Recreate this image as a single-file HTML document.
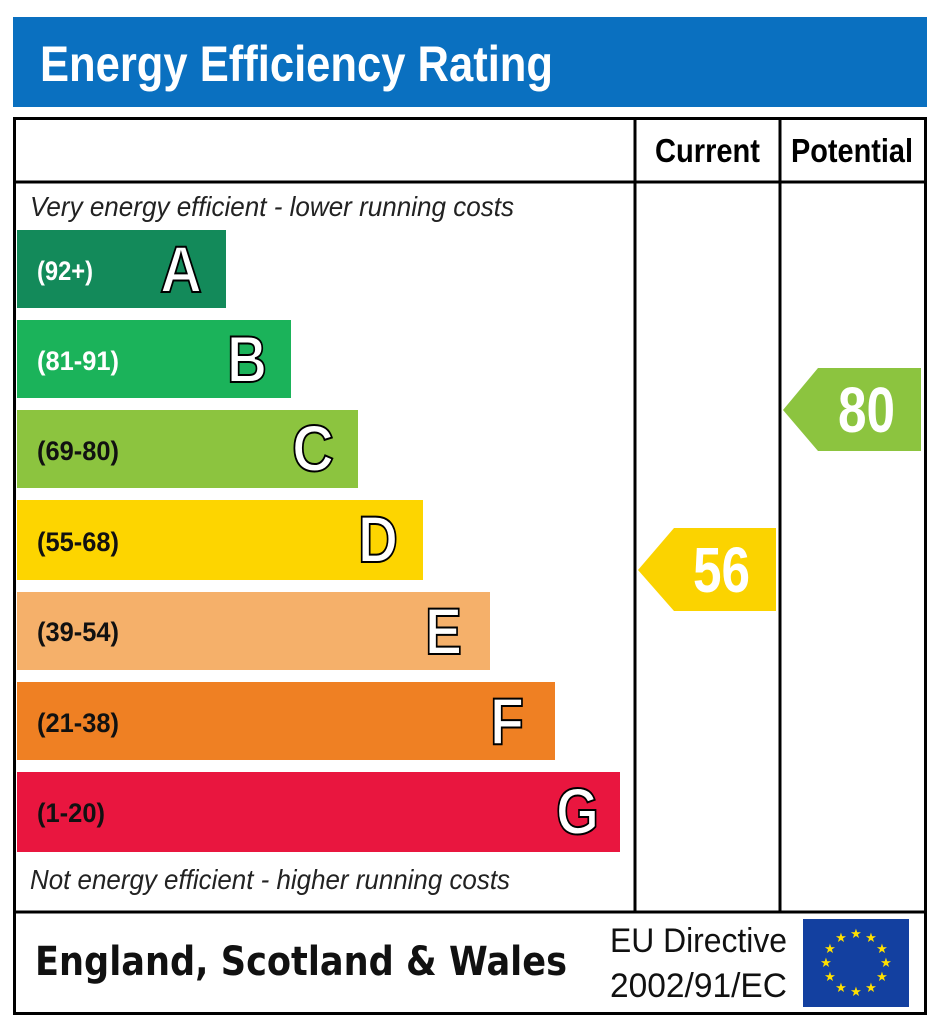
<!DOCTYPE html>
<html><head><meta charset="utf-8"><style>html,body{margin:0;padding:0;background:#fff}svg{display:block}</style></head>
<body>
<svg width="945" height="1024" viewBox="0 0 945 1024" xmlns="http://www.w3.org/2000/svg" font-family="'Liberation Sans Narrow','Liberation Sans',sans-serif">
<rect x="13" y="17" width="914" height="90" fill="#0a70c0"/>
<text x="40" y="81" font-size="50" font-weight="bold" fill="#fff" textLength="513" lengthAdjust="spacingAndGlyphs">Energy Efficiency Rating</text>
<rect x="14.5" y="118.5" width="911" height="895" fill="none" stroke="#000" stroke-width="3"/>
<line x1="14" y1="182" x2="926" y2="182" stroke="#000" stroke-width="3"/>
<line x1="14" y1="912" x2="926" y2="912" stroke="#000" stroke-width="3"/>
<line x1="635" y1="118" x2="635" y2="912" stroke="#000" stroke-width="3"/>
<line x1="780" y1="118" x2="780" y2="912" stroke="#000" stroke-width="3"/>
<text x="655" y="162" font-size="33" font-weight="bold" textLength="105" lengthAdjust="spacingAndGlyphs">Current</text>
<text x="791" y="162" font-size="33" font-weight="bold" textLength="122" lengthAdjust="spacingAndGlyphs">Potential</text>
<text x="30" y="216" font-size="28" font-style="italic" fill="#222" textLength="484" lengthAdjust="spacingAndGlyphs">Very energy efficient - lower running costs</text>
<text x="30" y="889" font-size="28" font-style="italic" fill="#222" textLength="480" lengthAdjust="spacingAndGlyphs">Not energy efficient - higher running costs</text>
<g font-weight="bold">
<rect x="17" y="230" width="209" height="78" fill="#138a5a"/>
<text x="37" y="280" font-size="27" fill="#fff" textLength="56" lengthAdjust="spacingAndGlyphs">(92+)</text>
<text x="160" y="292" font-size="66" fill="#fff" stroke="#000" stroke-width="2" textLength="42" lengthAdjust="spacingAndGlyphs">A</text>
<rect x="17" y="320" width="274" height="78" fill="#1bb35a"/>
<text x="37" y="370" font-size="27" fill="#fff" textLength="82" lengthAdjust="spacingAndGlyphs">(81-91)</text>
<text x="227" y="382" font-size="66" fill="#fff" stroke="#000" stroke-width="2" textLength="40" lengthAdjust="spacingAndGlyphs">B</text>
<rect x="17" y="410" width="341" height="78" fill="#8cc43f"/>
<text x="37" y="460" font-size="27" fill="#111" textLength="82" lengthAdjust="spacingAndGlyphs">(69-80)</text>
<text x="292" y="471" font-size="66" fill="#fff" stroke="#000" stroke-width="2" textLength="42" lengthAdjust="spacingAndGlyphs">C</text>
<rect x="17" y="500" width="406" height="80" fill="#fdd500"/>
<text x="37" y="551" font-size="27" fill="#111" textLength="82" lengthAdjust="spacingAndGlyphs">(55-68)</text>
<text x="358" y="562" font-size="66" fill="#fff" stroke="#000" stroke-width="2" textLength="40" lengthAdjust="spacingAndGlyphs">D</text>
<rect x="17" y="592" width="473" height="78" fill="#f5b06a"/>
<text x="37" y="641" font-size="27" fill="#111" textLength="82" lengthAdjust="spacingAndGlyphs">(39-54)</text>
<text x="425" y="654" font-size="66" fill="#fff" stroke="#000" stroke-width="2" textLength="37" lengthAdjust="spacingAndGlyphs">E</text>
<rect x="17" y="682" width="538" height="78" fill="#ef8023"/>
<text x="37" y="732" font-size="27" fill="#111" textLength="82" lengthAdjust="spacingAndGlyphs">(21-38)</text>
<text x="490" y="744" font-size="66" fill="#fff" stroke="#000" stroke-width="2" textLength="34" lengthAdjust="spacingAndGlyphs">F</text>
<rect x="17" y="772" width="603" height="80" fill="#e9163f"/>
<text x="37" y="822" font-size="27" fill="#111" textLength="68" lengthAdjust="spacingAndGlyphs">(1-20)</text>
<text x="556" y="834" font-size="66" fill="#fff" stroke="#000" stroke-width="2" textLength="43" lengthAdjust="spacingAndGlyphs">G</text>
</g>
<polygon points="638,570 674,528 776,528 776,611 674,611" fill="#fbd300"/>
<text x="693" y="592" font-size="64" font-weight="bold" fill="#fff" textLength="57" lengthAdjust="spacingAndGlyphs">56</text>
<polygon points="783,410 818,368 921,368 921,451 818,451" fill="#8cc43f"/>
<text x="838" y="432" font-size="64" font-weight="bold" fill="#fff" textLength="57" lengthAdjust="spacingAndGlyphs">80</text>
<text x="35" y="975" font-family="'DejaVu Sans','Liberation Sans',sans-serif" font-size="40" font-weight="bold" fill="#111" textLength="532" lengthAdjust="spacingAndGlyphs">England, Scotland &amp; Wales</text>
<text x="610" y="952" font-size="34" fill="#111" textLength="177" lengthAdjust="spacingAndGlyphs">EU Directive</text>
<text x="610" y="997" font-size="34" fill="#111" textLength="177" lengthAdjust="spacingAndGlyphs">2002/91/EC</text>
<rect x="803" y="919" width="106" height="88" fill="#1340a0"/>
<g fill="#ffe000" font-size="13" text-anchor="middle" font-family="'DejaVu Sans',sans-serif">
<text x="856" y="938">★</text><text x="871" y="942">★</text><text x="882" y="953">★</text><text x="886" y="967">★</text><text x="882" y="981">★</text><text x="871" y="992">★</text><text x="856" y="996">★</text><text x="841" y="992">★</text><text x="830" y="981">★</text><text x="826" y="967">★</text><text x="830" y="953">★</text><text x="841" y="942">★</text>
</g>
</svg>
</body></html>
